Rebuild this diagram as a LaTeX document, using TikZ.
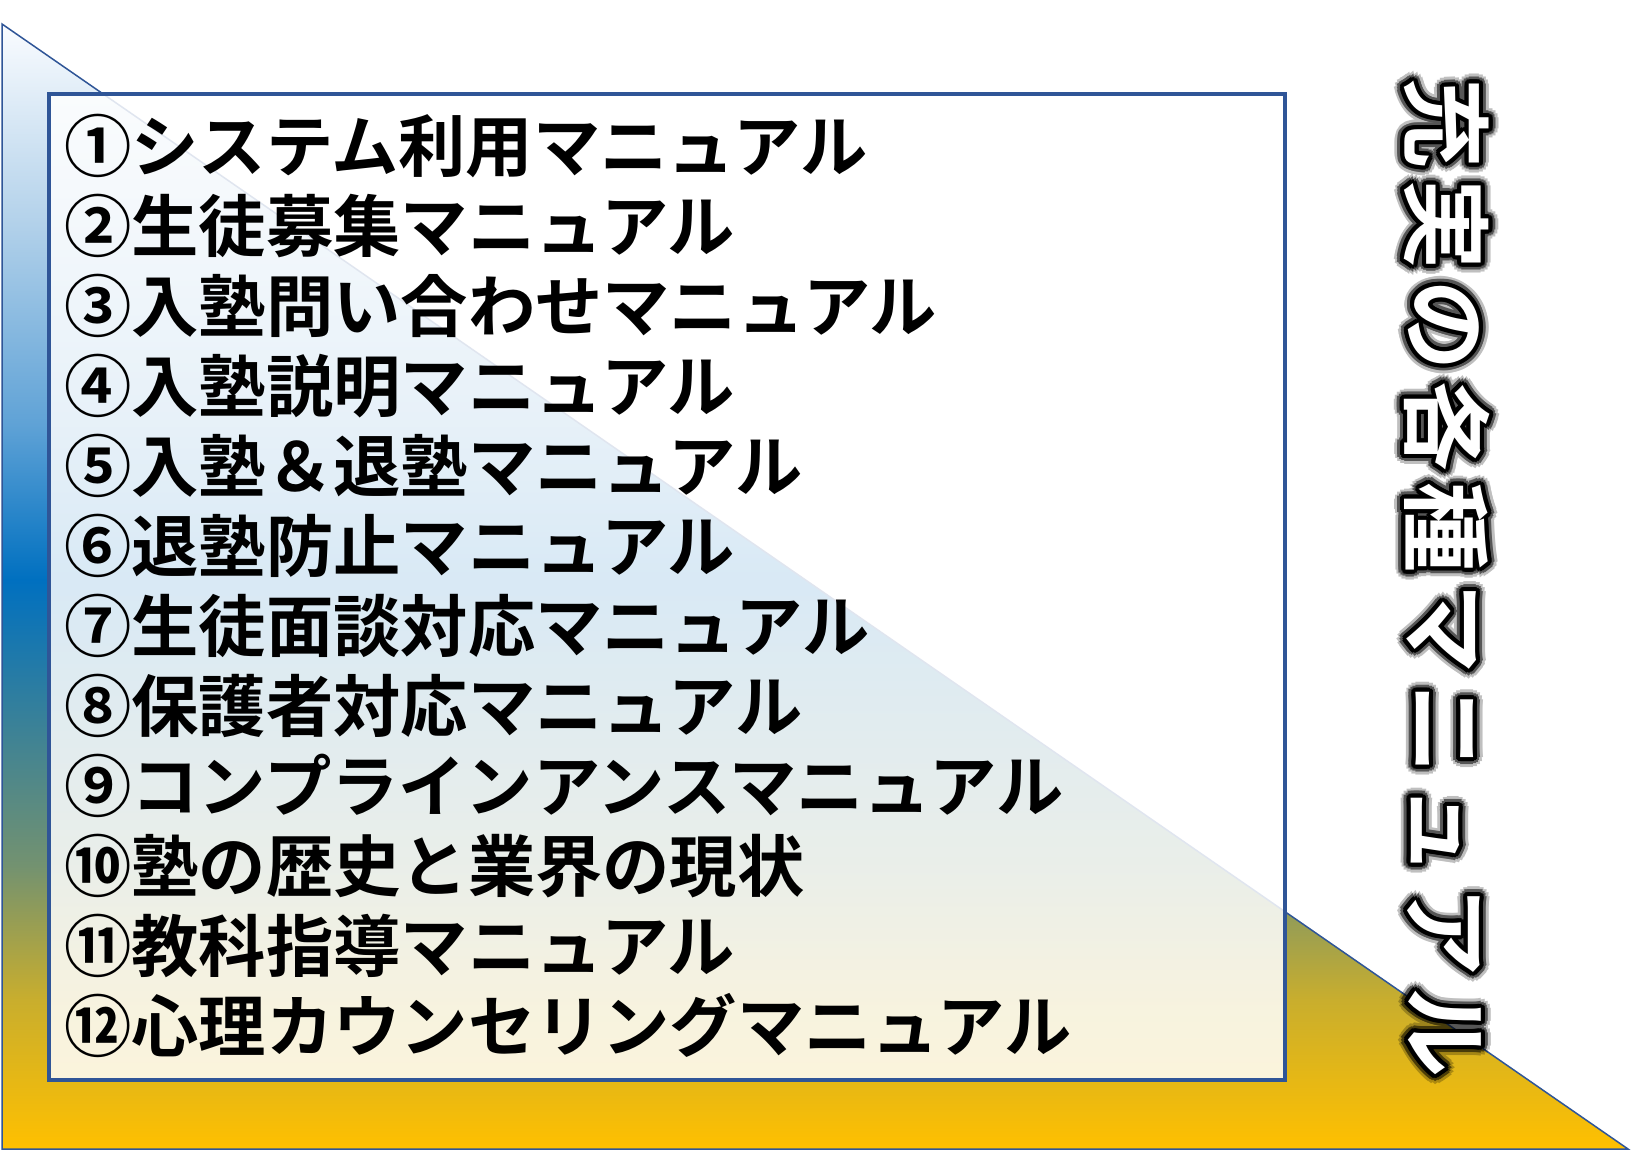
\documentclass[tikz,border=0pt]{standalone}
\usepackage{fontspec}
\newfontfamily\jp{Noto Sans CJK JP}[BoldFont={Noto Sans CJK JP Bold}]
\definecolor{boxblue}{HTML}{2F5597}
\definecolor{triblue}{HTML}{2F5597}
\definecolor{cgold}{HTML}{FFC000}
\definecolor{cgoldb}{HTML}{C9AE2D}
\definecolor{colive}{HTML}{739270}
\definecolor{cblue}{HTML}{0070C0}
\definecolor{cmidblue}{HTML}{5FA2D6}
\definecolor{clightblue}{HTML}{B2D1EA}
\definecolor{ctop}{HTML}{FAFCFF}
\pgfdeclareverticalshading{trishade}{100bp}{color(0bp)=(cgold); color(25bp)=(cgold); color(31.6bp)=(cgoldb); color(37.6bp)=(colive); color(50.3bp)=(cblue); color(57.2bp)=(cmidblue); color(66.1bp)=(clightblue); color(75bp)=(ctop); color(100bp)=(ctop)}
\newcommand\mytitle{充\kern11pt 実\kern11pt の\kern11pt 各\kern11pt 種\kern11pt マ\kern11pt ニ\kern11pt ュ\kern11pt ア\kern11pt ル}
\tikzset{
  listline/.style={anchor=base west, inner sep=0pt, font=\jp\bfseries\fontsize{67.3}{67.3}\selectfont, text=black},
  titlenode/.style={rotate=-90, anchor=center, inner sep=0pt, font=\jp\bfseries\fontsize{90}{90}\selectfont},
  listbox/.style={draw=boxblue, line width=3.5pt, fill=white, fill opacity=0.85},
  tri/.style={shading=trishade, draw=triblue, line width=1.5pt}
}
\begin{document}
\begin{tikzpicture}[x=1pt,y=-1pt]
\useasboundingbox (0,0) rectangle (1631,1154);
\fill[white] (0,0) rectangle (1631,1154);
\shadedraw[tri] (2,24) -- (2,1149) -- (1628,1149) -- cycle;
\draw[listbox] (49,94) rectangle (1285,1080);
\foreach \t [count=\i] in {①システム利用マニュアル,②生徒募集マニュアル,③入塾問い合わせマニュアル,④入塾説明マニュアル,⑤入塾＆退塾マニュアル,⑥退塾防止マニュアル,⑦生徒面談対応マニュアル,⑧保護者対応マニュアル,⑨コンプラインアンスマニュアル,⑩塾の歴史と業界の現状,⑪教科指導マニュアル,⑫心理カウンセリングマニュアル}
  \node[listline] (l\i) at (64,{171.5+80*(\i-1)}) {\t};
\coordinate (tc) at (1447,578);
\begin{scope}[transparency group, opacity=0.25]
\foreach \a [count=\k] in {0,22.5,...,337.5}
  \node[titlenode, text=black, shift={(\a:10)}] (go\k) at (tc) {\mytitle};
\end{scope}
\begin{scope}[transparency group, opacity=0.55]
\foreach \a [count=\k] in {0,22.5,...,337.5}
  \node[titlenode, text=black, shift={(\a:7)}] (gm\k) at (tc) {\mytitle};
\end{scope}
\foreach \a [count=\k] in {0,22.5,...,337.5}
  \node[titlenode, text=black, shift={(\a:4)}] (gc\k) at (tc) {\mytitle};
\node[titlenode, text=white] (title) at (tc) {\mytitle};
\end{tikzpicture}
\end{document}
